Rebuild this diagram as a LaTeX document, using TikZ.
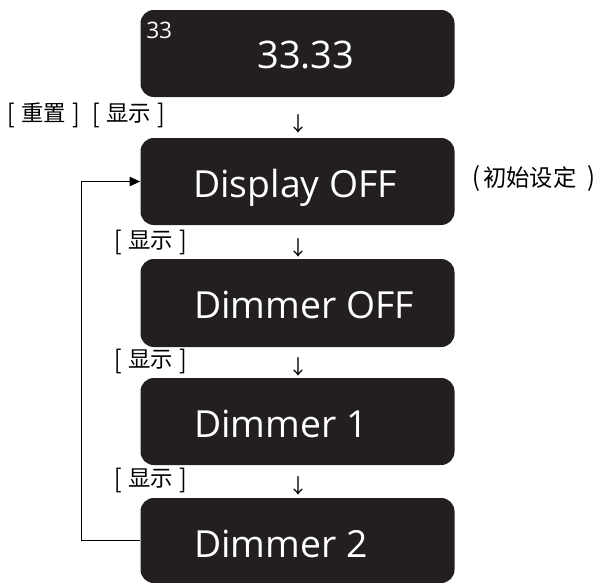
\documentclass[tikz,border=0pt]{standalone}
\usepackage{fontspec}
\setmainfont{Open Sans}
\newfontfamily\cjk{Noto Sans CJK SC}
\usetikzlibrary{arrows.meta}
\definecolor{boxfill}{HTML}{231F20}
\newcommand{\lbk}{\makebox[0.9em][c]{\raisebox{-0.05em}{\scalebox{1}[1.15]{[}}}}
\newcommand{\rbk}{\makebox[0.9em][c]{\raisebox{-0.05em}{\scalebox{1}[1.15]{]}}}}
\begin{document}
\begin{tikzpicture}[x=0.75pt,y=-0.75pt,
  panel/.style={draw=none,fill=boxfill,rounded corners=10pt,minimum width=235.5pt,inner sep=0pt},
  big/.style={text=white,font=\fontsize{28pt}{31pt}\selectfont,inner sep=0pt,anchor=base west},
  lab/.style={font=\cjk\fontsize{16.8pt}{17pt}\selectfont,inner sep=0pt},
  dn/.style={font=\cjk\fontsize{15pt}{16pt}\selectfont,inner sep=0pt},
  loop/.style={line width=1.1pt,-{Triangle[length=8pt,width=7pt]}}]
\useasboundingbox (0,0) rectangle (605,582);
% panels
\node[panel,minimum height=65.25pt] (b1) at (297.5,53.5) {};
\node[panel,minimum height=65.25pt] (b2) at (297.5,181.5) {};
\node[panel,minimum height=66pt]    (b3) at (297.5,303) {};
\node[panel,minimum height=65.25pt] (b4) at (297.5,421.5) {};
\node[panel,minimum height=63.75pt] (b5) at (297.5,540.5) {};
% panel texts
\node[text=white,font=\fontsize{17pt}{18pt}\selectfont,inner sep=0pt,anchor=base west] (t0) at (146,38) {33};
\node[big,font=\fontsize{28.5pt}{31pt}\selectfont] (t1) at (257,68) {33.33};
\node[big] (t2) at (193,197) {Display OFF};
\node[big] (t3) at (194,318) {Dimmer OFF};
\node[big] (t4) at (194,437) {Dimmer 1};
\node[big] (t5) at (194,557) {Dimmer 2};
% key labels
\node[lab,anchor=west] (k1) at (1,115) {\lbk 重置\rbk\lbk 显示\rbk};
\node[lab,anchor=west] (k2) at (108,242) {\lbk 显示\rbk};
\node[lab,anchor=west] (k3) at (108,361) {\lbk 显示\rbk};
\node[lab,anchor=west] (k4) at (108,480) {\lbk 显示\rbk};
\node[lab,anchor=west,font=\cjk\fontsize{17.5pt}{18pt}\selectfont] (init) at (469,179) {\makebox[0.6em][c]{\scalebox{1}[1.1]{(}}初始设定\hspace{0.45em}\scalebox{1}[1.1]{)}};
% down arrows
\node[dn] (d1) at (298,124) {↓};
\node[dn] (d2) at (298,248) {↓};
\node[dn] (d3) at (298,367) {↓};
\node[dn] (d4) at (298,486) {↓};
% loop back
\draw[loop] (b5.west) -- ++(-59,0) |- (b2.west);
\end{tikzpicture}
\end{document}
